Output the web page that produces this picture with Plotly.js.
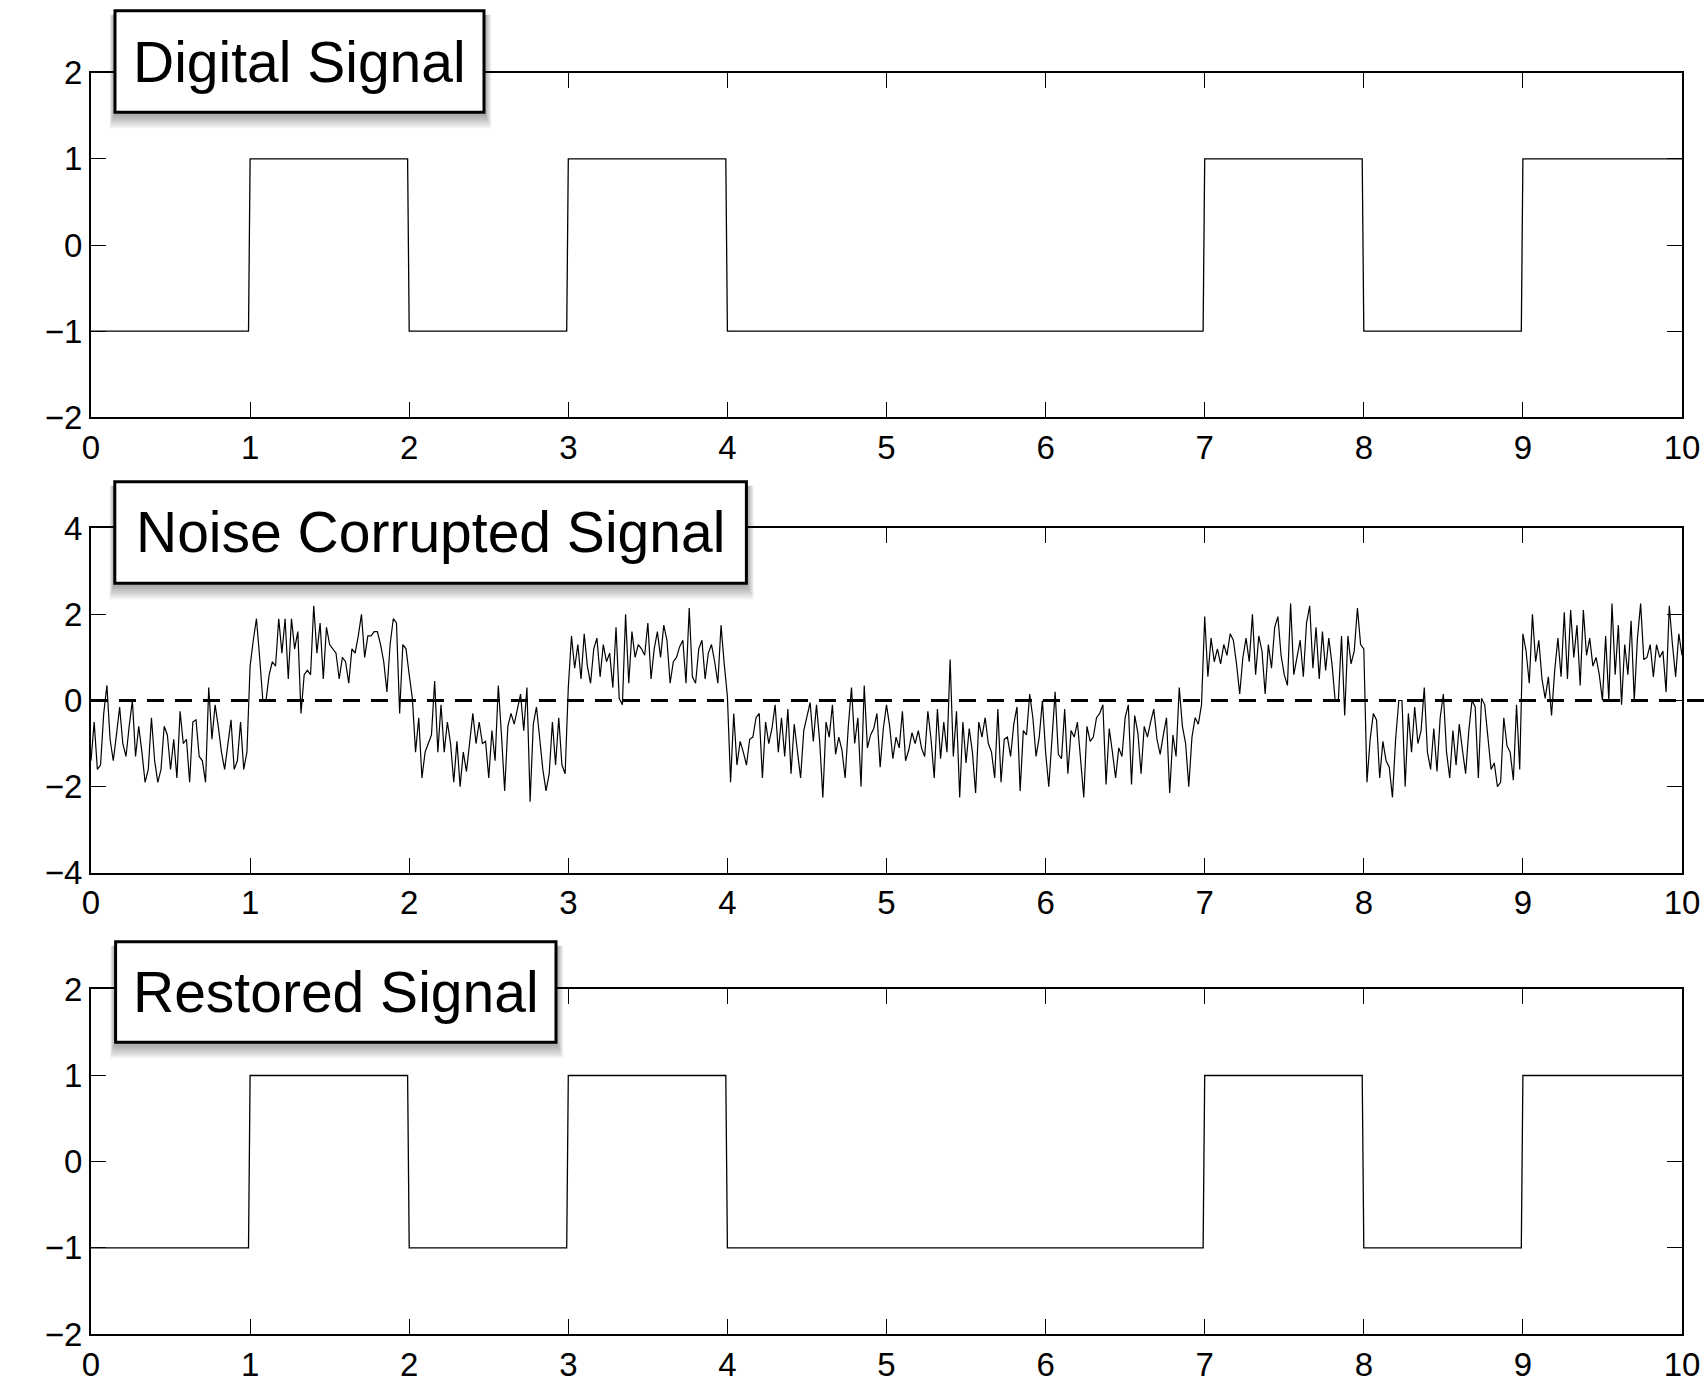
<!DOCTYPE html>
<html><head><meta charset="utf-8">
<script src="https://cdn.plot.ly/plotly-3.0.1.min.js"></script>
<style>html,body{margin:0;padding:0;background:#fff;overflow:hidden}</style>
</head><body>
<div id="chart" style="width:1707px;height:1382px"></div>
<script>
// ---- data ----
const bits = [-1, 1, -1, 1, -1, -1, -1, 1, -1, 1];          // transmitted bits, one per unit time
const restoredBits = [-1, 1, -1, 1, -1, -1, -1, 1, -1, 1];  // recovered bits
const threshold = 0;                                         // decision level (dashed line)
const tStart = 0, tEnd = 10;
// noise corrupted samples, 50 per unit time
const noisy = [
 -1.4,-0.5,-1.6,-1.5,-0.3,0.35,-0.9,-1.4,-0.8,-0.15,-1.0,-1.3,-0.6,0.0,-1.3,-0.6,-1.2,-1.9,-1.6,-0.4,
 -1.4,-1.9,-1.6,-0.6,-0.8,-1.6,-0.9,-1.8,-0.25,-1.0,-0.9,-1.9,-0.5,-0.45,-1.3,-1.4,-1.9,0.3,-0.9,-0.1,
 -0.6,-1.2,-1.6,-1.0,-0.45,-1.6,-1.4,-0.5,-1.6,-1.2,
 0.8,1.4,1.9,1.0,0.0,0.0,0.6,0.9,0.8,1.9,1.1,1.9,0.5,1.9,1.2,1.6,-0.3,0.6,0.7,0.6,
 2.2,1.1,1.8,0.5,1.7,1.3,1.2,1.1,0.5,1.0,0.9,0.4,1.2,1.1,1.5,2.0,1.0,1.5,1.5,1.6,
 1.6,1.3,0.9,0.2,1.3,1.9,1.8,-0.3,1.3,1.2,
 0.6,0.05,-1.2,-0.4,-1.8,-1.2,-1.0,-0.8,0.45,-1.2,-0.1,-1.2,-0.5,-1.0,-1.9,-0.95,-2.0,-1.2,-1.65,-0.9,
 -0.3,-1.0,-0.5,-1.0,-0.95,-1.8,-0.7,-1.4,0.35,-0.8,-2.1,-0.6,-0.3,-0.55,-0.2,0.15,-0.7,0.3,-2.35,-0.55,
 -0.15,-0.9,-1.6,-2.1,-1.7,-0.5,-1.5,-0.4,-1.5,-1.7,
 0.3,1.5,0.75,1.3,0.5,1.55,0.8,0.4,1.2,1.45,0.55,1.3,0.9,1.1,0.3,1.7,0.05,-0.1,2.0,0.4,
 1.6,1.0,1.3,1.2,1.05,1.8,0.5,1.2,1.6,1.0,1.75,1.4,0.4,0.9,1.0,1.25,1.4,0.4,2.15,0.55,
 0.4,1.2,1.4,0.5,1.1,1.3,0.9,0.4,1.75,0.85,
 0.1,-1.9,-0.3,-1.5,-0.95,-1.2,-1.5,-0.9,-0.85,-0.4,-0.3,-1.8,-0.5,-1.0,-0.65,-0.1,-1.2,-0.4,-1.3,-0.2,
 -1.7,-0.55,-1.15,-1.8,-0.7,-0.4,-0.05,-0.95,-0.1,-0.95,-2.25,-0.5,-0.85,-0.1,-1.25,-0.85,-1.15,-1.8,-0.6,0.3,
 -1.0,-0.4,-2.0,0.35,-1.1,-0.8,-0.65,-0.3,-1.55,-0.65,
 -0.1,-0.6,-1.35,-0.85,-1.1,-0.25,-1.4,-1.15,-0.75,-1.0,-0.7,-1.1,-1.3,-0.25,-0.9,-1.8,-0.2,-1.35,-0.5,-1.2,
 0.95,-1.3,-0.25,-2.25,-0.5,-1.45,-0.65,-1.2,-2.15,-0.5,-0.85,-0.4,-1.0,-1.2,-1.8,-0.2,-1.9,-0.9,-0.85,-1.3,
 -0.55,-0.15,-2.1,-0.7,-0.8,0.15,-0.4,-1.3,-0.85,0.0,
 -1.2,-2.0,-1.0,0.2,-1.25,-1.35,-0.2,-1.7,-0.7,-0.85,-0.5,-1.3,-2.25,-0.6,-0.95,-0.85,-0.4,-0.3,-0.1,-1.95,
 -0.65,-1.2,-1.8,-1.1,-1.3,-0.4,-0.1,-1.95,-0.35,-0.75,-1.7,-0.6,-0.85,-0.5,-0.2,-0.9,-1.25,-0.8,-0.4,-2.15,
 -0.8,-1.3,0.3,-0.6,-1.0,-2.0,-0.85,-0.4,-0.55,-0.1,
 1.95,0.55,1.45,0.9,1.2,0.85,1.3,1.05,1.55,1.4,0.85,0.15,1.0,1.45,0.9,2.0,0.6,1.5,1.15,0.15,
 1.3,0.75,1.7,1.95,1.05,0.6,0.35,2.25,0.6,1.0,1.4,0.55,1.8,2.2,0.75,1.7,0.5,1.6,0.7,1.45,
 0.85,0.0,0.0,1.5,-0.35,1.5,0.85,1.15,2.15,1.3,
 1.2,-1.9,-0.9,-0.3,-0.45,-1.8,-0.95,-1.4,-1.55,-2.25,-0.9,0.0,0.0,-2.0,-0.3,-1.2,-0.15,-1.0,-0.7,0.3,
 -1.2,-1.6,-0.65,-1.65,-0.4,0.15,-1.2,-1.8,-0.7,-1.5,-0.55,-1.15,-1.7,-0.7,0.0,-0.15,-1.8,0.05,-0.1,-0.85,
 -1.6,-1.45,-2.0,-1.9,-0.4,-1.05,-1.2,-1.85,-0.1,-1.6,
 1.55,1.15,0.4,2.0,0.9,1.4,0.5,0.05,0.55,-0.35,0.7,1.45,0.55,2.05,0.5,2.1,1.0,1.75,0.35,2.1,
 1.05,1.45,0.8,1.0,0.6,0.0,1.5,0.0,2.25,0.6,1.75,-0.1,1.3,0.6,1.85,0.0,1.45,2.25,0.95,1.0,
 1.3,0.55,1.3,1.0,1.15,0.2,2.2,1.3,0.55,1.55,1.05
];
const xTicks = [0, 1, 2, 3, 4, 5, 6, 7, 8, 9, 10];
const yTicksSignal = [-2, -1, 0, 1, 2];
const yTicksNoisy = [-4, -2, 0, 2, 4];
const panelTitles = ['Digital Signal', 'Noise Corrupted Signal', 'Restored Signal'];

// ---- helpers ----
function stepXY(b) {
  const x = [], y = [];
  b.forEach((v, k) => { x.push(k, k + 0.99); y.push(v, v); });
  x.push(b.length); y.push(b[b.length - 1]);
  return {x, y};
}
const W = 1707, H = 1382, ML = 91, MR = 25;
const PW = W - ML - MR;
const px = v => (v - ML) / PW;
const py = v => 1 - v / H;

const dig = stepXY(bits);
const res = stepXY(restoredBits);
const tNoisy = noisy.map((_, i) => tStart + i * (tEnd - tStart) / (noisy.length - 1));

const lineStyle = {color: '#000', width: 1.3};
const traces = [
  {x: dig.x, y: dig.y, type: 'scatter', mode: 'lines', line: lineStyle, xaxis: 'x', yaxis: 'y', hoverinfo: 'skip'},
  {x: tNoisy, y: noisy, type: 'scatter', mode: 'lines', line: {color: '#000', width: 1.2}, xaxis: 'x2', yaxis: 'y2', hoverinfo: 'skip'},
  {x: res.x, y: res.y, type: 'scatter', mode: 'lines', line: lineStyle, xaxis: 'x3', yaxis: 'y3', hoverinfo: 'skip'}
];

const FONT = 'Liberation Sans, Arial, Helvetica, sans-serif';
const TICKFONT = {size: 33, color: '#000', family: FONT};
function xax(anchor) {
  return {anchor, domain: [0, 1], range: [tStart, tEnd], tickvals: xTicks, ticktext: xTicks.map(String),
    ticks: 'inside', ticklen: 15, tickwidth: 1, tickcolor: '#000', showline: true, linewidth: 2, linecolor: '#000',
    mirror: 'ticks', showgrid: false, zeroline: false, tickfont: TICKFONT, fixedrange: true};
}
function yax(anchor, dom, rng, tv) {
  return {anchor, domain: dom, range: rng, tickvals: tv, ticktext: tv.map(v => v < 0 ? '\u2212' + Math.abs(v) : String(v)),
    ticks: 'inside', ticklen: 15, tickwidth: 1, tickcolor: '#000', showline: true, linewidth: 2, linecolor: '#000',
    mirror: 'ticks', showgrid: false, zeroline: false, tickfont: TICKFONT, fixedrange: true};
}

// title boxes (pixel rectangles: left, top, right, bottom)
const boxes = [[115, 10.7, 484, 112.3], [114.8, 481.7, 746.4, 583.3], [115.6, 941.7, 556, 1042.3]];
const shapes = [];
boxes.forEach(b => {
  for (let i = 1; i <= 7; i++) {
    shapes.push({type: 'rect', xref: 'paper', yref: 'paper', layer: 'above',
      x0: px(b[0] - 1 - i * 0.6), x1: px(b[2] + 1 + i * 0.9),
      y0: py(b[3] + 2 + i * 2.0), y1: py(b[1] + 4),
      fillcolor: 'rgba(0,0,0,0.05)', line: {width: 0}});
  }
  shapes.push({type: 'rect', xref: 'paper', yref: 'paper', layer: 'above',
    x0: px(b[0]), x1: px(b[2]), y0: py(b[3]), y1: py(b[1]),
    fillcolor: '#fff', line: {color: '#000', width: 3}});
});
shapes.push({type: 'line', xref: 'paper', yref: 'y2', layer: 'above', x0: 0, x1: 1.02, y0: threshold, y1: threshold,
  line: {color: '#000', width: 3, dash: '17px,11px'}});

const annotations = boxes.map((b, i) => ({
  text: panelTitles[i], xref: 'paper', yref: 'paper', x: px((b[0] + b[2]) / 2), y: py((b[1] + b[3]) / 2),
  xanchor: 'center', yanchor: 'middle', showarrow: false, font: {size: 57, color: '#000', family: FONT}
}));

const layout = {
  width: W, height: H, margin: {l: ML, r: MR, t: 0, b: 0},
  paper_bgcolor: '#fff', plot_bgcolor: '#fff', showlegend: false,
  font: {family: FONT, color: '#000'},
  xaxis: xax('y'), yaxis: yax('x', [py(417.3), py(72.7)], [-2, 2], yTicksSignal),
  xaxis2: xax('y2'), yaxis2: yax('x2', [py(872.7), py(528.3)], [-4, 4], yTicksNoisy),
  xaxis3: xax('y3'), yaxis3: yax('x3', [py(1334), py(989.3)], [-2, 2], yTicksSignal),
  shapes, annotations
};
Plotly.newPlot('chart', traces, layout, {staticPlot: true, displayModeBar: false});
</script>
</body></html>
